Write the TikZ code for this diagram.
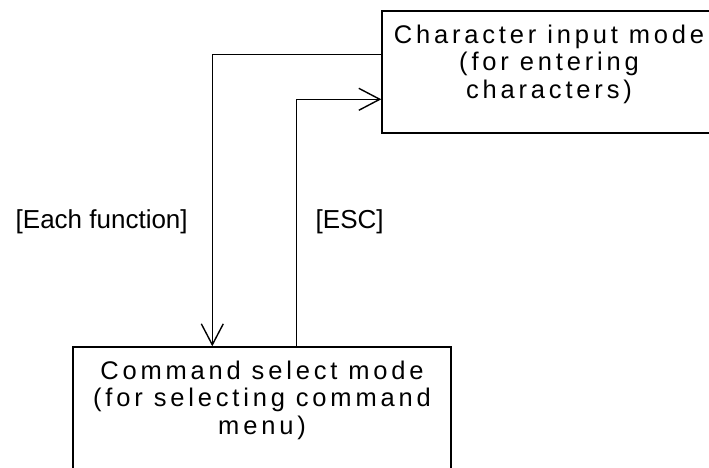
\documentclass[tikz,border=0pt]{standalone}
\usepackage{fontspec}
\setmainfont{Liberation Sans}
\newfontfamily\boxfont[LetterSpace=15]{Liberation Sans}
\usetikzlibrary{arrows.meta}
\begin{document}
\begin{tikzpicture}[x=1pt,y=-1pt,line width=1.4pt,
  modebox/.style={draw,rectangle,minimum width=334pt,minimum height=122pt,inner sep=0pt},
  modetext/.style={anchor=north,align=center,inner sep=0pt,font=\boxfont\fontsize{25.5}{27.5}\selectfont},
  lbl/.style={anchor=base west,inner sep=0pt,font=\fontsize{26}{28}\selectfont},
  arr/.style={-{Straight Barb[length=21pt,width=22pt]}}]
\useasboundingbox (0,0) rectangle (709,468);
\clip (0,0) rectangle (709,468);
\node[modebox] (top) at (549,72) {};
\node[modebox,minimum width=378pt] (bot) at (262,408) {};
\node[modetext] (toptext) at ([yshift=-14pt]top.north) {Character input mode\\(for entering\\characters)};
\node[modetext] (bottext) at ([yshift=-14pt]bot.north) {Command select mode\\(for selecting command\\menu)};
\draw[arr] ([yshift=-44pt]top.north west) -| ([xshift=140pt]bot.north west);
\draw[arr] ([xshift=224pt]bot.north west) |- ([yshift=-89pt]top.north west);
\node[lbl] (l1) at (15,228) {[Each function]};
\node[lbl] (l2) at (315,228) {[ESC]};
\end{tikzpicture}
\end{document}
